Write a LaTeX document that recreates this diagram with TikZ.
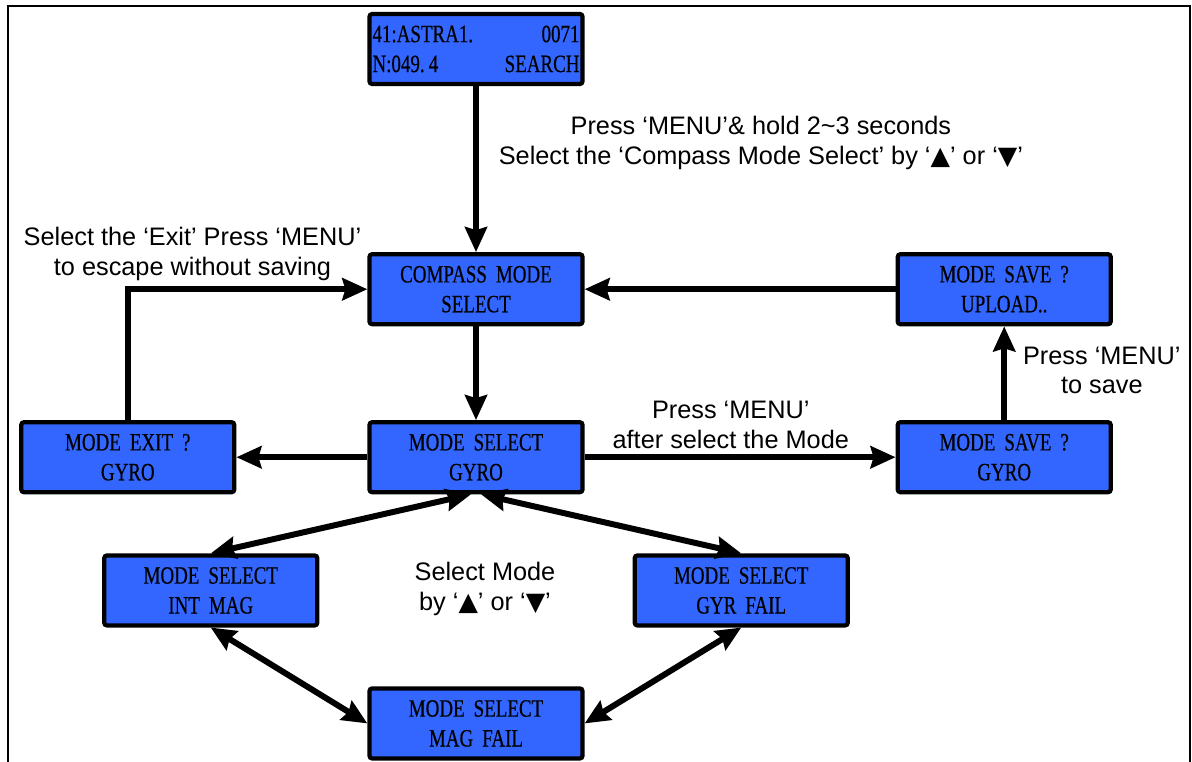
\documentclass[tikz,border=0pt]{standalone}
\usepackage{fontspec}
\setmainfont{Liberation Sans}
\newfontfamily\lcdfont[FakeStretch=0.76,WordSpace=1.9,FakeBold=0.4]{Liberation Serif}
\newfontfamily\symfont{DejaVu Sans}
\usetikzlibrary{arrows.meta,positioning}
\definecolor{lcdblue}{HTML}{3366FF}

\begin{document}
\begin{tikzpicture}[->,>={Stealth[length=0.5cm,width=0.44cm,inset=0.06cm]},line width=3.4pt,
                    auto,node distance=3.36cm]

  \tikzstyle{lcd} = [draw,line width=2.4pt,fill=lcdblue,rounded corners=1.5pt,minimum width=4.26cm,
                     minimum height=1.4cm,inner sep=0pt,align=center,font=\lcdfont\fontsize{14.2}{17}\selectfont]
  \tikzstyle{note} = [font=\fontsize{14.4}{17}\selectfont,align=center]

  \useasboundingbox (0,0) rectangle (23.84,-15.24);
  \draw[-,line width=1.5pt] (0.16,-15.24) -- (0.16,-0.12) -- (23.8,-0.12) -- (23.8,-15.24);

  \node[lcd] (A) at (9.52,-0.98)          {\makebox[4.14cm]{41:ASTRA1.\hfill 0071}\\\makebox[4.14cm]{N:049.\,4\hfill SEARCH}};
  \node[lcd] (B) [below=3.32cm of A]      {COMPASS MODE\\SELECT};
  \node[lcd] (C) [below of=B]             {MODE SELECT\\GYRO};
  \node[lcd] (D) [left=2.62cm of C]       {MODE EXIT ?\\GYRO};
  \node[lcd] (E) [right=6.22cm of C]      {MODE SAVE ?\\GYRO};
  \node[lcd] (F) [above of=E]             {MODE SAVE ?\\UPLOAD..};
  \node[lcd] (G) [below left=1.18cm and 0.96cm of C]  {MODE SELECT\\INT MAG};
  \node[lcd] (H) [below right=1.18cm and 0.96cm of C] {MODE SELECT\\GYR FAIL};
  \node[lcd] (I) [below=3.84cm of C]      {MODE SELECT\\MAG FAIL};
  \node[note] (J) at (9.7,-11.78)         {Select Mode\\by ‘{\symfont ▲}’ or ‘{\symfont ▼}’};

  \path (A) edge node [note,pos=0.34,xshift=0.28cm]{Press ‘MENU’\& hold 2\textasciitilde 3 seconds\\Select the ‘Compass Mode Select’ by ‘{\symfont ▲}’ or ‘{\symfont ▼}’} (B)
        (B) edge              node {} (C)
        (C) edge              node {} (D)
        (C) edge              node [note,pos=0.47]{Press ‘MENU’\\after select the Mode} (E)
        (E) edge              node [note,swap,pos=0.53,xshift=0.2cm]{Press ‘MENU’\\to save} (F)
        (F) edge              node {} (B)
        ([xshift=-0.1cm]C.south) edge [<->] (G.north)
        ([xshift=0.1cm]C.south)  edge [<->] (H.north)
        (G.south) edge [<->]  (I.west)
        (H.south) edge [<->]  (I.east);
  \draw (D) |- node [note,pos=0.635,above]{Select the ‘Exit’ Press ‘MENU’\\to escape without saving} (B);

\end{tikzpicture}
\end{document}
